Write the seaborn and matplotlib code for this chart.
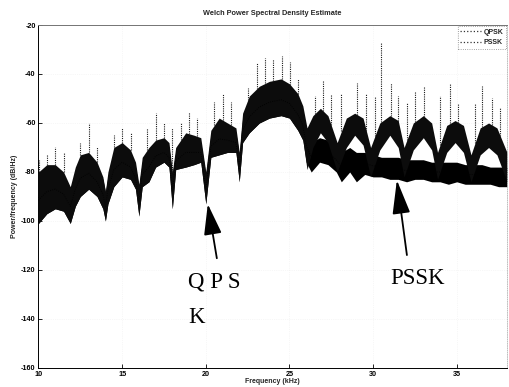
import numpy as np
import pandas as pd
import matplotlib
matplotlib.use("Agg")
import matplotlib.pyplot as plt
from matplotlib.lines import Line2D
import seaborn as sns

# ---------------- data ----------------
# QPSK band: frequency (kHz), upper edge and lower edge (dB/Hz)
qpsk_freq = [10.0, 10.5, 11.0, 11.5, 11.9, 12.2, 12.5, 13.0, 13.5, 13.85, 14.0, 14.15,
             14.5, 15.0, 15.5, 15.8, 16.0, 16.2, 16.6, 17.0, 17.5, 17.8, 18.0, 18.2,
             18.8, 19.3, 19.7, 20.0, 20.3, 20.8, 21.3, 21.8, 22.0, 22.2, 22.6, 23.2,
             23.8, 24.5, 25.0, 25.5, 25.8, 26.05, 26.4, 26.85, 27.3, 27.85, 28.4, 28.9,
             29.4, 29.85, 30.4, 31.0, 31.5, 31.85, 32.4, 33.0, 33.5, 33.85, 34.4, 34.9,
             35.4, 35.85, 36.4, 36.9, 37.4, 38.0]
qpsk_upper = [-80, -77, -77, -80, -86, -78, -73, -72, -76, -82, -88, -80,
              -70, -68, -71, -76, -85, -74, -70, -67, -66, -68, -80, -70,
              -64, -65, -66, -80, -63, -58, -60, -62, -72, -56, -49, -45,
              -43, -42, -44, -48, -53, -62, -57, -54, -57, -68, -58, -56,
              -58, -70, -60, -57, -59, -70, -60, -57, -60, -72, -61, -59,
              -61, -73, -62, -60, -62, -72]
qpsk_lower = [-101, -97, -95, -96, -101, -94, -90, -87, -90, -95, -100, -93,
              -86, -82, -83, -87, -98, -86, -84, -78, -76, -78, -95, -79,
              -78, -77, -76, -93, -74, -73, -72, -72, -84, -68, -64, -60,
              -58, -57, -58, -63, -67, -79, -70, -64, -68, -80, -70, -65,
              -69, -82, -71, -65, -70, -82, -71, -66, -71, -83, -72, -68,
              -72, -84, -73, -70, -73, -84]

# PSSK band
pssk_freq = [10.0, 10.5, 11.0, 11.5, 11.9, 12.2, 12.5, 13.0, 13.5, 13.85, 14.0, 14.15,
             14.5, 15.0, 15.5, 15.8, 16.0, 16.2, 16.6, 17.0, 17.5, 17.8, 18.0, 18.2,
             18.8, 19.3, 19.7, 20.0, 20.3, 20.8, 21.3, 21.8, 22.0, 22.2, 22.6, 23.2,
             23.8, 24.5, 25.0, 25.5, 25.8, 26.0, 26.3, 26.8, 27.3, 27.8, 28.1, 28.6,
             29.0, 29.5, 30.0, 30.5, 31.0, 31.5, 32.0, 32.5, 33.0, 33.5, 34.0, 34.5,
             35.0, 35.5, 36.0, 36.5, 37.0, 37.5, 38.0]
pssk_upper = [-82, -79, -79, -82, -87, -80, -75, -74, -78, -83, -88, -82,
              -72, -70, -73, -78, -86, -76, -72, -69, -68, -70, -81, -72,
              -66, -67, -68, -81, -65, -60, -62, -64, -73, -58, -51, -47,
              -45, -44, -46, -50, -55, -62, -68, -66, -67, -70, -72, -70,
              -72, -72, -73, -74, -74, -74, -75, -75, -75, -76, -76, -76,
              -76, -77, -77, -77, -78, -78, -78]
pssk_lower = [-101, -97, -95, -96, -101, -94, -90, -87, -90, -95, -100, -93,
              -86, -82, -83, -87, -98, -86, -84, -78, -76, -78, -95, -79,
              -78, -77, -76, -93, -74, -73, -72, -72, -84, -68, -64, -60,
              -58, -57, -58, -63, -67, -76, -80, -76, -77, -80, -84, -80,
              -84, -81, -82, -82, -83, -83, -84, -83, -83, -84, -84, -85,
              -84, -85, -85, -85, -85, -86, -86]

# isolated spikes rising above the band: frequency (kHz) and peak (dB/Hz)
spike_freq = [10.03, 10.5, 11.0, 11.5, 12.5, 13.0, 13.5, 14.5, 15.0, 15.5, 16.5, 17.0,
              17.5, 18.0, 18.5, 19.0, 19.5, 20.5, 21.0, 21.5, 22.5, 23.05, 23.55, 24.03,
              24.55, 25.04, 25.5, 26.5, 27.0, 27.5, 28.1, 29.05, 29.6, 30.1, 30.48, 31.08,
              31.5, 32.02, 32.52, 33.06, 34.01, 34.6, 35.1, 36.1, 36.5, 37.1, 37.6]
spike_top = [-75, -73, -70, -72, -68, -60, -70, -65, -62, -64, -62, -56,
             -60, -62, -60, -55.5, -58, -51.5, -48, -51.5, -45.7, -35.5, -33.5, -34,
             -32.5, -35, -42, -49, -42.5, -48, -48, -43.7, -48, -49, -27, -43.7,
             -49, -52, -47, -45, -49, -43.7, -52, -52, -45, -50, -54]

series_names = ["QPSK", "PSSK"]
x_ticks = [10, 15, 20, 25, 30, 35]
y_ticks = [-160, -140, -120, -100, -80, -60, -40, -20]

# ---------------- long-form table (upper & lower per frequency) ----------------
rows = []
for name, fr, up, lo in [("PSSK", pssk_freq, pssk_upper, pssk_lower),
                         ("QPSK", qpsk_freq, qpsk_upper, qpsk_lower)]:
    for f, u, l in zip(fr, up, lo):
        rows.append((name, f, u))
        rows.append((name, f, l))
df = pd.DataFrame(rows, columns=["series", "freq", "db"])

# ---------------- styling ----------------
sns.set_theme(style="white")
plt.rcParams["font.family"] = ["Liberation Sans", "DejaVu Sans"]
plt.rcParams["axes.unicode_minus"] = False

fig = plt.figure(figsize=(5.09, 3.87), dpi=100)
ax = fig.add_axes([0.0756, 0.0491, 0.9204, 0.8863])

ax.grid(True, color="0.85", linestyle=":", linewidth=0.5, alpha=0.4)
ax.set_axisbelow(True)

# spikes (behind band)
q_up_at = np.interp(spike_freq, qpsk_freq, qpsk_upper)
ax.vlines(spike_freq, q_up_at, spike_top, colors="0.1", linestyles=(0, (1, 1)),
          linewidth=0.8, zorder=1.5)

palette = {"PSSK": "#000000", "QPSK": "#0c0c0c"}
sns.lineplot(data=df, x="freq", y="db", hue="series", hue_order=["PSSK", "QPSK"],
             estimator="mean", errorbar=("pi", 100), palette=palette,
             err_kws=dict(alpha=1.0, linewidth=0), linestyle=":", linewidth=0.6,
             legend=False, ax=ax, zorder=2)

ax.set_xlim(10, 38)
ax.set_ylim(-160, -20)
ax.set_xticks(x_ticks)
ax.set_yticks(y_ticks)
ax.tick_params(direction="in", length=3, width=0.6, labelsize=5.2, pad=2,
               colors="black", bottom=True, left=True)
for lab in ax.get_xticklabels() + ax.get_yticklabels():
    lab.set_fontweight("bold")

for side in ["left", "bottom"]:
    ax.spines[side].set_color("black")
    ax.spines[side].set_linewidth(0.7)
ax.spines["top"].set_color("0.45")
ax.spines["top"].set_linewidth(0.7)
ax.spines["right"].set_color("0.7")
ax.spines["right"].set_linestyle(":")
ax.spines["right"].set_linewidth(0.6)

ax.set_title("Welch Power Spectral Density Estimate", fontsize=5.3,
             fontweight="bold", pad=7)
ax.set_xlabel("Frequency (kHz)", fontsize=5, fontweight="bold", labelpad=0)
ax.set_ylabel("Power/frequency (dB/Hz)", fontsize=5, fontweight="bold", labelpad=2)

handles = [Line2D([], [], color="0.2", linestyle=":", linewidth=0.9),
           Line2D([], [], color="0.2", linestyle=":", linewidth=0.9)]
leg = ax.legend(handles, series_names, loc="upper right",
                prop={"weight": "bold", "size": 5}, frameon=True, fancybox=False,
                handlelength=3, handletextpad=0.3, borderpad=0.4,
                borderaxespad=0.15, labelspacing=0.5)
leg.get_frame().set_edgecolor("0.4")
leg.get_frame().set_linewidth(0.6)
leg.get_frame().set_linestyle(":")

# annotations
serif = ["Liberation Serif", "DejaVu Serif"]
ax.annotate("", xy=(20.12, -93.1), xytext=(20.66, -115.2),
            arrowprops=dict(arrowstyle="-|>,head_length=1.9,head_width=0.55",
                            mutation_scale=10, color="black", linewidth=1.3,
                            shrinkA=0, shrinkB=0))
ax.annotate("", xy=(31.42, -83.3), xytext=(32.02, -113.9),
            arrowprops=dict(arrowstyle="-|>,head_length=2.1,head_width=0.55",
                            mutation_scale=10, color="black", linewidth=1.3,
                            shrinkA=0, shrinkB=0))
ax.text(18.94, -127.3, "Q P S", family=serif, fontsize=16.5, ha="left",
        va="baseline", color="black")
ax.text(18.94, -141.6, "K", family=serif, fontsize=16.5, ha="left",
        va="baseline", color="black")
ax.text(31.02, -125.7, "PSSK", family=serif, fontsize=16.5, ha="left",
        va="baseline", color="black")

fig.savefig("out.png", dpi=100)
